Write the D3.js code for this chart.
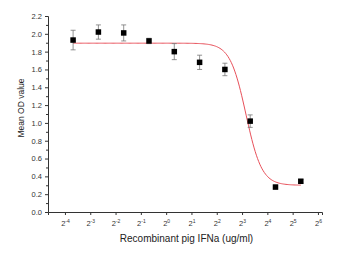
<!DOCTYPE html>
<html>
<head>
<meta charset="utf-8">
<script src="https://cdn.jsdelivr.net/npm/d3@7"></script>
<style>
  body { margin: 0; background: #fff; }
  text { font-family: "Liberation Sans", Arial, sans-serif; }
</style>
</head>
<body>
<div id="chart"></div>
<script>
// concentrations (ug/ml), two-fold dilutions
var doses = [0.078125, 0.15625, 0.3125, 0.625, 1.25, 2.5, 5, 10, 20, 40];
var meanOD = [1.93, 2.02, 2.01, 1.92, 1.80, 1.68, 1.60, 1.02, 0.28, 0.345];
var errOD = [0.11, 0.08, 0.09, 0.03, 0.09, 0.08, 0.07, 0.07, 0.02, 0.02];
var xTickExp = [-4, -3, -2, -1, 0, 1, 2, 3, 4, 5, 6];
var yTicks = [0, 0.2, 0.4, 0.6, 0.8, 1.0, 1.2, 1.4, 1.6, 1.8, 2.0, 2.2];

// logistic fit: y = bottom + (top - bottom) / (1 + (x/x0)^p)
var fitTop = 1.895, fitBottom = 0.30, fitX0 = 8.9, fitP = 4.6;

var margin = { top: 16, right: 30, bottom: 44, left: 48 };
var width = 352 - margin.left - margin.right,
    height = 256 - margin.top - margin.bottom;

var svg = d3.select("#chart").append("svg")
    .attr("width", 352)
    .attr("height", 256)
    .append("g")
    .attr("transform", "translate(" + margin.left + "," + margin.top + ")");

var x = d3.scaleLog().base(2)
    .domain([Math.pow(2, -4.67), Math.pow(2, 6.16)])
    .range([0, width]);

var y = d3.scaleLinear()
    .domain([0, 2.2])
    .range([height, 0]);

// y axis (major + minor)
var yAxis = d3.axisLeft(y)
    .tickValues(yTicks)
    .tickFormat(d3.format(".1f"))
    .tickSize(3)
    .tickPadding(3);

var yMinor = d3.range(0.1, 2.2, 0.2);
svg.append("g")
    .attr("class", "y-minor")
    .call(d3.axisLeft(y).tickValues(yMinor).tickSize(2).tickFormat(""))
    .select(".domain").remove();

svg.append("g")
    .attr("class", "y-axis")
    .call(yAxis);

// x axis
var xAxis = d3.axisBottom(x)
    .tickValues(xTickExp.map(function(e){ return Math.pow(2, e); }))
    .tickSize(3)
    .tickFormat("");

var gx = svg.append("g")
    .attr("class", "x-axis")
    .attr("transform", "translate(0," + height + ")")
    .call(xAxis);

gx.selectAll(".tick").each(function(d, i){
    var t = d3.select(this).append("text")
        .attr("y", 14)
        .attr("fill", "#333")
        .attr("text-anchor", "middle")
        .style("font-size", "7.5px");
    t.append("tspan").text("2");
    t.append("tspan")
        .attr("dy", -3)
        .style("font-size", "5px")
        .text(xTickExp[i]);
});

svg.selectAll(".domain").attr("stroke", "#333").attr("stroke-width", 1);
svg.selectAll(".tick line").attr("stroke", "#333");
svg.selectAll(".y-axis text").attr("fill", "#333").style("font-size", "7.5px");

// fitted curve
var curveX = d3.range(0, 201).map(function(i){
    var lo = Math.log2(doses[0]), hi = Math.log2(doses[doses.length - 1]);
    return Math.pow(2, lo + (hi - lo) * i / 200);
});
var line = d3.line()
    .x(function(d){ return x(d); })
    .y(function(d){ return y(fitBottom + (fitTop - fitBottom) / (1 + Math.pow(d / fitX0, fitP))); });

svg.append("path")
    .datum(curveX)
    .attr("fill", "none")
    .attr("stroke", "#e8505a")
    .attr("stroke-width", 1)
    .attr("d", line);

// error bars
var eb = svg.selectAll(".err")
    .data(doses)
    .enter().append("g")
    .attr("class", "err")
    .attr("stroke", "#777")
    .attr("stroke-width", 0.8);

eb.append("line")
    .attr("x1", function(d){ return x(d); })
    .attr("x2", function(d){ return x(d); })
    .attr("y1", function(d, i){ return y(meanOD[i] + errOD[i]); })
    .attr("y2", function(d, i){ return y(meanOD[i] - errOD[i]); });
eb.append("line")
    .attr("x1", function(d){ return x(d) - 2.5; })
    .attr("x2", function(d){ return x(d) + 2.5; })
    .attr("y1", function(d, i){ return y(meanOD[i] + errOD[i]); })
    .attr("y2", function(d, i){ return y(meanOD[i] + errOD[i]); });
eb.append("line")
    .attr("x1", function(d){ return x(d) - 2.5; })
    .attr("x2", function(d){ return x(d) + 2.5; })
    .attr("y1", function(d, i){ return y(meanOD[i] - errOD[i]); })
    .attr("y2", function(d, i){ return y(meanOD[i] - errOD[i]); });

// points
svg.selectAll(".pt")
    .data(doses)
    .enter().append("rect")
    .attr("class", "pt")
    .attr("x", function(d){ return x(d) - 2.75; })
    .attr("y", function(d, i){ return y(meanOD[i]) - 2.75; })
    .attr("width", 5.5)
    .attr("height", 5.5)
    .attr("fill", "#000");

// axis titles
svg.append("text")
    .attr("x", width / 2 + 1.5)
    .attr("y", height + 30)
    .attr("text-anchor", "middle")
    .attr("fill", "#222")
    .style("font-size", "10px")
    .text("Recombinant pig IFNa (ug/ml)");

svg.append("text")
    .attr("transform", "rotate(-90)")
    .attr("x", -height / 2 + 6)
    .attr("y", -24)
    .attr("text-anchor", "middle")
    .attr("fill", "#222")
    .style("font-size", "8.5px")
    .text("Mean OD value");
</script>
</body>
</html>
